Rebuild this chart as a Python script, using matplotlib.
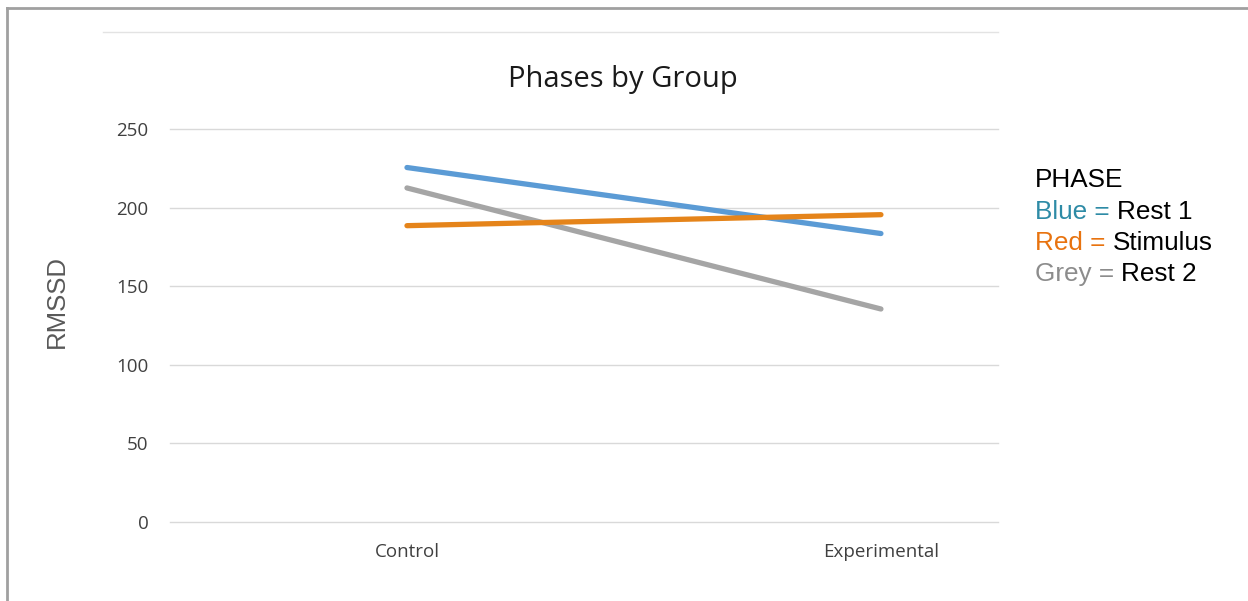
import matplotlib
matplotlib.use("Agg")
import matplotlib.pyplot as plt
from matplotlib.lines import Line2D

# ---- data ----
groups = ["Control", "Experimental"]
rest1 = [225.5, 183.5]
stimulus = [188.5, 195.5]
rest2 = [212.5, 135.5]
yticks = [0, 50, 100, 150, 200, 250]

W, H = 1248, 601
fig = plt.figure(figsize=(W / 100, H / 100), dpi=100)
fig.patch.set_facecolor("white")

def fx(px):
    return px / W

def fy(py):
    return 1 - py / H

ax = fig.add_axes([fx(170), fy(522), fx(998) - fx(170), fy(129) - fy(522)])
x = list(range(len(groups)))
ax.plot(x, rest1, color="#5B9BD5", lw=3.8, solid_capstyle="round", zorder=3)
ax.plot(x, rest2, color="#A5A5A5", lw=3.8, solid_capstyle="round", zorder=3)
ax.plot(x, stimulus, color="#E5841A", lw=3.8, solid_capstyle="round", zorder=3)

ax.set_xlim(-0.5, 1.247)
ax.set_ylim(0, 250)
ax.set_yticks(yticks)
ax.set_xticks(x)
ax.set_xticklabels(groups)
for s in ax.spines.values():
    s.set_visible(False)
ax.grid(axis="y", color="#D9D9D9", lw=1)
for gl in ax.get_ygridlines():
    gl.set_clip_on(False)
ax.set_axisbelow(True)
ax.tick_params(length=0)
ax.tick_params(axis="y", pad=15.5)
ax.tick_params(axis="x", pad=15)
for lab in ax.get_xticklabels() + ax.get_yticklabels():
    lab.set_fontfamily("Open Sans")
    lab.set_fontsize(13.5)
    lab.set_color("#404040")

fig.text(fx(623), fy(79), "Phases by Group", ha="center", va="center",
         fontfamily="Open Sans", fontsize=21, color="#1a1a1a")

fig.text(fx(57), fy(302), "RMSSD", rotation=90, ha="center", va="center",
         fontfamily="Liberation Sans", fontsize=18.5, color="#595959")

# legend-like text block
lx = fx(1035)
fs = 18.8
base = [187, 219, 250, 281]
fig.text(lx, fy(base[0]), "PHASE", ha="left", va="baseline",
         fontfamily="Liberation Sans", fontsize=fs, color="black")
entries = [("Blue = ", "#2E8BA6", "Rest 1"),
           ("Red = ", "#E8730F", "Stimulus"),
           ("Grey = ", "#8C8C8C", "Rest 2")]
for (a, c, b), by in zip(entries, base[1:]):
    t1 = fig.text(lx, fy(by), a, ha="left", va="baseline",
                  fontfamily="Liberation Sans", fontsize=fs, color=c)
    fig.canvas.draw()
    bb = t1.get_window_extent()
    fig.text(bb.x1 / W, fy(by), b, ha="left", va="baseline",
             fontfamily="Liberation Sans", fontsize=fs, color="black")

# frames
fig.add_artist(Line2D([fx(7), 1], [fy(8), fy(8)], color="#A0A0A0", lw=2))
fig.add_artist(Line2D([fx(7), fx(7)], [fy(8), 0], color="#A0A0A0", lw=2))
fig.add_artist(Line2D([fx(103), fx(998)], [fy(32), fy(32)], color="#E3E3E3", lw=1))

fig.savefig("out.png", dpi=100, facecolor="white")
